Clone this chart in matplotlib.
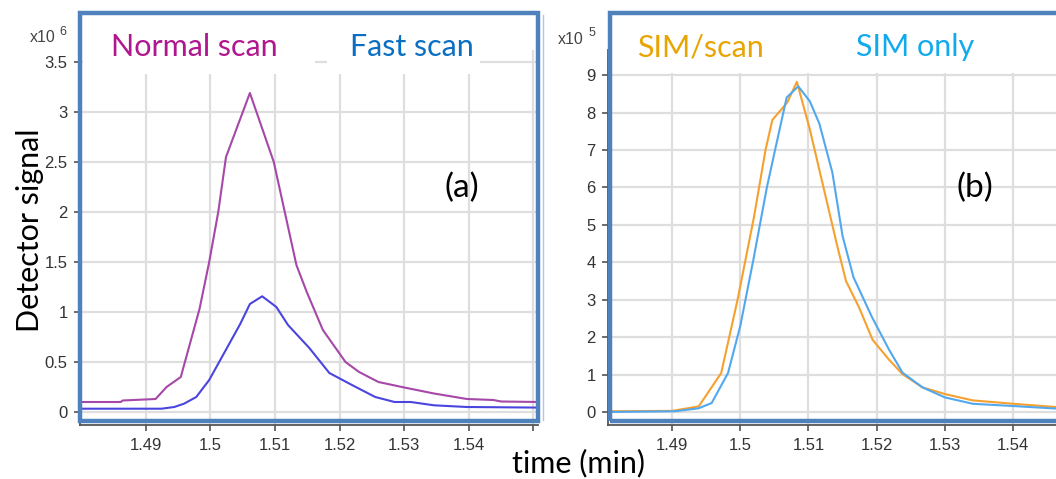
import matplotlib
matplotlib.use("Agg")
import matplotlib.pyplot as plt
from matplotlib.patches import Rectangle
from matplotlib.lines import Line2D

# ---------------- data ----------------
# Panel (a), detector signal in units of 1e6
t_normal = [1.4800, 1.4861, 1.4864, 1.4898, 1.4915, 1.4932, 1.4954, 1.4983, 1.4998, 1.5012,
            1.5024, 1.5061, 1.5098, 1.5133, 1.5149, 1.5174, 1.5209, 1.5230, 1.5260, 1.5300,
            1.5346, 1.5397, 1.5438, 1.5450, 1.5510]
v_normal = [0.10, 0.10, 0.115, 0.125, 0.13, 0.25, 0.35, 1.03, 1.50, 2.00,
            2.55, 3.19, 2.50, 1.47, 1.20, 0.82, 0.50, 0.40, 0.30, 0.245,
            0.185, 0.13, 0.12, 0.105, 0.10]
t_fast = [1.4800, 1.4924, 1.4944, 1.4959, 1.4978, 1.4998, 1.5022, 1.5046, 1.5061, 1.5080,
          1.5102, 1.5120, 1.5153, 1.5184, 1.5219, 1.5255, 1.5285, 1.5310, 1.5346, 1.5397, 1.5510]
v_fast = [0.033, 0.033, 0.05, 0.083, 0.15, 0.32, 0.60, 0.88, 1.08, 1.157,
          1.05, 0.87, 0.64, 0.39, 0.27, 0.15, 0.10, 0.10, 0.067, 0.05, 0.044]

# Panel (b), detector signal in units of 1e5
t_simscan = [1.4806, 1.4900, 1.4939, 1.4972, 1.4996, 1.5020, 1.5037, 1.5047, 1.5069, 1.5083,
             1.5102, 1.5142, 1.5155, 1.5174, 1.5194, 1.5218, 1.5238, 1.5267, 1.5300, 1.5341,
             1.5400, 1.5465]
v_simscan = [0.02, 0.03, 0.15, 1.04, 3.0, 5.2, 7.0, 7.8, 8.27, 8.82,
             7.55, 4.45, 3.5, 2.8, 1.93, 1.4, 1.01, 0.66, 0.48, 0.31,
             0.22, 0.13]
t_simonly = [1.4806, 1.4905, 1.4939, 1.4958, 1.4982, 1.5000, 1.5019, 1.5039, 1.5051, 1.5068,
             1.5085, 1.5102, 1.5116, 1.5135, 1.5150, 1.5166, 1.5193, 1.5218, 1.5238, 1.5267,
             1.5300, 1.5341, 1.5400, 1.5465]
v_simonly = [0.0, 0.02, 0.10, 0.24, 1.04, 2.3, 4.05, 6.0, 7.0, 8.4,
             8.7, 8.3, 7.7, 6.4, 4.7, 3.6, 2.54, 1.67, 1.05, 0.66,
             0.39, 0.22, 0.16, 0.09]

xticks = [1.49, 1.50, 1.51, 1.52, 1.53, 1.54, 1.55]
xticklabels = ["1.49", "1.5", "1.51", "1.52", "1.53", "1.54", ""]
yticks_a = [0, 0.5, 1, 1.5, 2, 2.5, 3, 3.5]
yticklabels_a = ["0", "0.5", "1", "1.5", "2", "2.5", "3", "3.5"]
yticks_b = [0, 1, 2, 3, 4, 5, 6, 7, 8, 9]

labels_a = ["Normal scan", "Fast scan"]
labels_b = ["SIM/scan", "SIM only"]

# ---------------- figure ----------------
W, H = 1056, 479
fig = plt.figure(figsize=(W / 100, H / 100), dpi=100)
fig.patch.set_facecolor("white")


def fx(px):
    return px / W


def fy(py):
    return 1 - py / H


def make_axes(left, right, top, bottom):
    ax = fig.add_axes([fx(left), fy(bottom), fx(right) - fx(left), fy(top) - fy(bottom)])
    ax.grid(True, color="#dedede", linewidth=1.6)
    ax.set_axisbelow(True)
    for s in ["top", "right"]:
        ax.spines[s].set_visible(False)
    for s in ["left", "bottom"]:
        ax.spines[s].set_color("#555555")
        ax.spines[s].set_linewidth(1.3)
    ax.tick_params(direction="out", length=4, width=1.1, color="#444444",
                   labelcolor="#333333", labelsize=12, pad=5)
    return ax


# Panel (a)
axa = make_axes(80, 538, 50, 425)
axa.plot(t_normal, v_normal, color="#a548a8", linewidth=1.5, zorder=3)
axa.plot(t_fast, v_fast, color="#4a45de", linewidth=1.5, zorder=3)
axa.set_xlim(1.4798, 1.5507)
axa.set_ylim(-0.13, 3.62)
axa.set_xticks(xticks)
axa.set_xticklabels(xticklabels)
axa.set_yticks(yticks_a)
axa.set_yticklabels(yticklabels_a)

# Panel (b)
axb = make_axes(608, 1056, 50, 425)
axb.plot(t_simscan, v_simscan, color="#f6a02e", linewidth=1.5, zorder=3)
axb.plot(t_simonly, v_simonly, color="#52a8ee", linewidth=1.5, zorder=3)
axb.set_xlim(1.4806, 1.5463)
axb.set_ylim(-0.347, 9.67)
axb.set_xticks(xticks[:-1])
axb.set_xticklabels(xticklabels[:-1])
axb.set_yticks(yticks_b)
axb.set_yticklabels([str(v) for v in yticks_b])

for ax in (axa, axb):
    for lab in ax.get_xticklabels() + ax.get_yticklabels():
        lab.set_family("Liberation Sans")

# white label boxes
for (x0, x1, y0, y1) in [(83, 315, 20, 74), (327, 480, 20, 74), (612, 828, 20, 73), (840, 1017, 20, 73)]:
    fig.patches.append(Rectangle((fx(x0), fy(y1)), fx(x1) - fx(x0), fy(y0) - fy(y1),
                                 transform=fig.transFigure, facecolor="white",
                                 edgecolor="none", zorder=4))

# blue frames
frame_col = "#4f81bd"
fig.patches.append(Rectangle((fx(80), fy(421)), fx(538) - fx(80), fy(13) - fy(421),
                             transform=fig.transFigure, facecolor="none",
                             edgecolor=frame_col, linewidth=3.2, zorder=6))
fig.patches.append(Rectangle((fx(610), fy(421)), fx(1070) - fx(610), fy(13) - fy(421),
                             transform=fig.transFigure, facecolor="none",
                             edgecolor=frame_col, linewidth=3.2, zorder=6))
fig.lines.append(Line2D([fx(543), fx(543)], [fy(15), fy(420)], transform=fig.transFigure,
                        color="#a9c8ea", linewidth=1.0, zorder=6))

font = "Lato"
fig.text(fx(194), fy(47), labels_a[0], color="#b0168f", fontsize=22, family=font,
         ha="center", va="center", zorder=7)
fig.text(fx(412), fy(47), labels_a[1], color="#0a6fc2", fontsize=22, family=font,
         ha="center", va="center", zorder=7)
fig.text(fx(700), fy(47), labels_b[0], color="#e8a400", fontsize=22, family=font,
         ha="center", va="center", zorder=7)
fig.text(fx(915), fy(47), labels_b[1], color="#12aaee", fontsize=22, family=font,
         ha="center", va="center", zorder=7)

fig.text(fx(462), fy(188), "(a)", color="black", fontsize=24, family=font,
         ha="center", va="center", zorder=7)
fig.text(fx(975), fy(188), "(b)", color="black", fontsize=24, family=font,
         ha="center", va="center", zorder=7)

fig.text(fx(30), fy(230), "Detector signal", color="black", fontsize=22, family=font,
         rotation=90, ha="center", va="center", zorder=7)
fig.text(fx(578), fy(463), "time (min)", color="black", fontsize=22, family=font,
         ha="center", va="center", zorder=7)

# exponent labels
fig.text(fx(43), fy(38), "x10", color="#444444", fontsize=11.5, family="Liberation Sans",
         ha="center", va="center", zorder=7)
fig.text(fx(63), fy(32), "6", color="#444444", fontsize=9, family="Liberation Sans",
         ha="center", va="center", zorder=7)
fig.text(fx(571), fy(39), "x10", color="#444444", fontsize=11.5, family="Liberation Sans",
         ha="center", va="center", zorder=7)
fig.text(fx(592), fy(33), "5", color="#444444", fontsize=9, family="Liberation Sans",
         ha="center", va="center", zorder=7)

fig.savefig("out.png", dpi=100, facecolor="white")
